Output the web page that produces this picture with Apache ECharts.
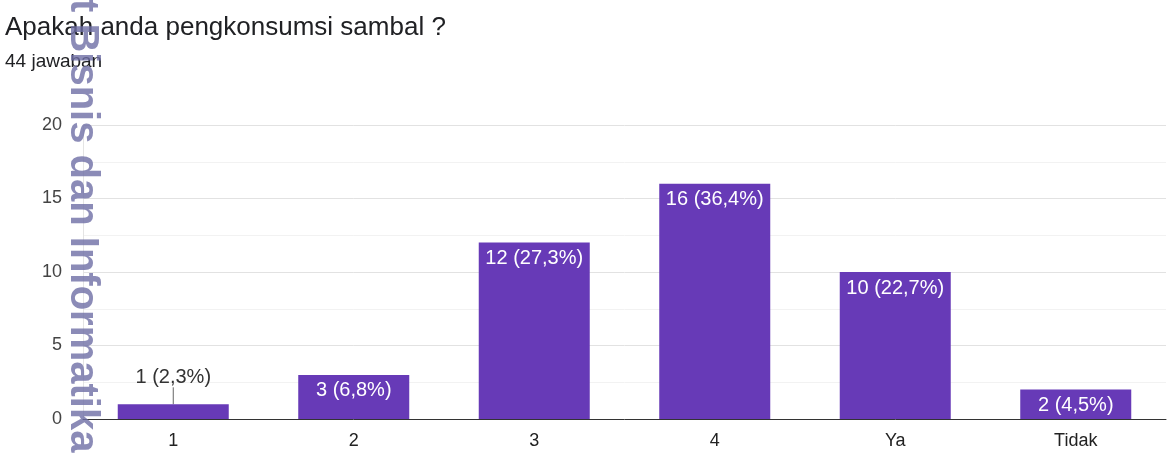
<!DOCTYPE html>
<html>
<head>
<meta charset="utf-8">
<script src="https://cdn.jsdelivr.net/npm/echarts@6/dist/echarts.min.js"></script>
<style>
html,body{margin:0;padding:0;background:#fff;}
#chart{width:1176px;height:462px;}
</style>
</head>
<body>
<div id="chart"></div>
<script>
var titleText = 'Apakah anda pengkonsumsi sambal ?';
var subtitleText = '44 jawaban';
var watermarkText = 't Bisnis dan Informatika Kwik Kian Gie';
var categories = ['1', '2', '3', '4', 'Ya', 'Tidak'];
var counts = [1, 3, 12, 16, 10, 2];
var total = 44;
var yTicks = [0, 5, 10, 15, 20];

var chart = echarts.init(document.getElementById('chart'), null, {renderer: 'canvas'});
var font = '"Liberation Sans", Arial, sans-serif';

function labelText(p) {
  var pct = (counts[p.dataIndex] / total * 100).toFixed(1).replace('.', ',');
  return counts[p.dataIndex] + ' (' + pct + '%)';
}

var data = counts.map(function (v, i) {
  if (v < 2) {
    return {
      value: v,
      label: {position: 'top', distance: 1, color: '#333333'},
      labelLine: {show: true, length2: 0, lineStyle: {color: '#666666', width: 1}}
    };
  }
  return {value: v};
});

chart.setOption({
  animation: false,
  backgroundColor: '#ffffff',
  grid: {left: 83, right: 10, top: 125, bottom: 43, containLabel: false},
  xAxis: {
    type: 'category',
    data: categories,
    axisLine: {show: true, lineStyle: {color: '#333333', width: 1}},
    axisTick: {show: false},
    axisLabel: {color: '#222222', fontSize: 18, fontFamily: font, margin: 13}
  },
  yAxis: {
    type: 'value',
    min: yTicks[0],
    max: yTicks[yTicks.length - 1],
    interval: 5,
    axisLine: {show: true, lineStyle: {color: '#e4e4e4'}},
    axisTick: {show: false},
    axisLabel: {color: '#444444', fontSize: 18, fontFamily: font, margin: 21},
    splitLine: {show: true, lineStyle: {color: '#e2e2e2', width: 1}},
    minorTick: {show: false, splitNumber: 2},
    minorSplitLine: {show: true, lineStyle: {color: '#f2f2f2', width: 1}}
  },
  series: [{
    type: 'bar',
    data: data,
    barCategoryGap: '38.5%',
    itemStyle: {color: '#673ab7'},
    label: {
      show: true,
      position: 'insideTop',
      distance: 6,
      color: '#ffffff',
      fontSize: 20,
      fontFamily: font,
      formatter: labelText
    },
    labelLayout: function (p) {
      if (counts[p.dataIndex] < 2) {
        return {dy: -16};
      }
      return {};
    }
  }],
  graphic: [
    {
      type: 'text', x: 5, y: 28, z: 10,
      style: {text: titleText, fill: '#202124', font: '400 26px ' + font, verticalAlign: 'middle'}
    },
    {
      type: 'text', x: 5, y: 62, z: 10,
      style: {text: subtitleText, fill: '#202124', font: '400 19px ' + font, verticalAlign: 'middle'}
    },
    {
      type: 'text', x: 102, y: -1, rotation: -Math.PI / 2, z: 20,
      style: {text: watermarkText, fill: 'rgba(110,110,165,0.8)', font: 'bold 40px ' + font, align: 'left', verticalAlign: 'top'}
    }
  ]
});
</script>
</body>
</html>
